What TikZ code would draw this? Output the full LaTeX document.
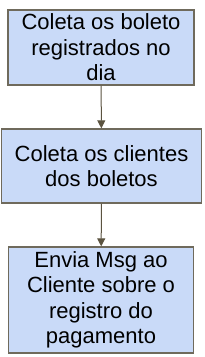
\documentclass[tikz,border=0pt]{standalone}
\usepackage{fontspec}
\setmainfont{Liberation Sans}
\usepackage{xcolor}
\usetikzlibrary{arrows.meta}
\definecolor{boxblue}{HTML}{C9DAF8}
\definecolor{boxedge}{HTML}{6F6A5C}
\definecolor{arrowbrown}{HTML}{5B5340}

\begin{document}
\begin{tikzpicture}[x=1pt,y=1pt,
  etapa/.style={draw=boxedge,fill=boxblue,line width=1.3pt,inner sep=0pt,
    align=center,font=\fontsize{22}{25.5}\selectfont},
  seta/.style={arrowbrown,line width=1pt,-{Triangle[length=8pt,width=8pt]}}]
  \useasboundingbox (0,0) rectangle (205,-357);
  \node[etapa,minimum width=186pt,minimum height=75pt] (coleta) at (101,-47.5)
    {Coleta os boleto\\registrados no\\dia};
  \node[etapa,minimum width=200pt,minimum height=74pt] (clientes) at (101.5,-166)
    {Coleta os clientes\\dos boletos};
  \node[etapa,minimum width=185pt,minimum height=106pt] (envia) at (101,-300)
    {Envia Msg ao\\Cliente sobre o\\registro do\\pagamento};
  \draw[seta] (coleta) -- (clientes);
  \draw[seta] (clientes) -- (envia);
\end{tikzpicture}
\end{document}
